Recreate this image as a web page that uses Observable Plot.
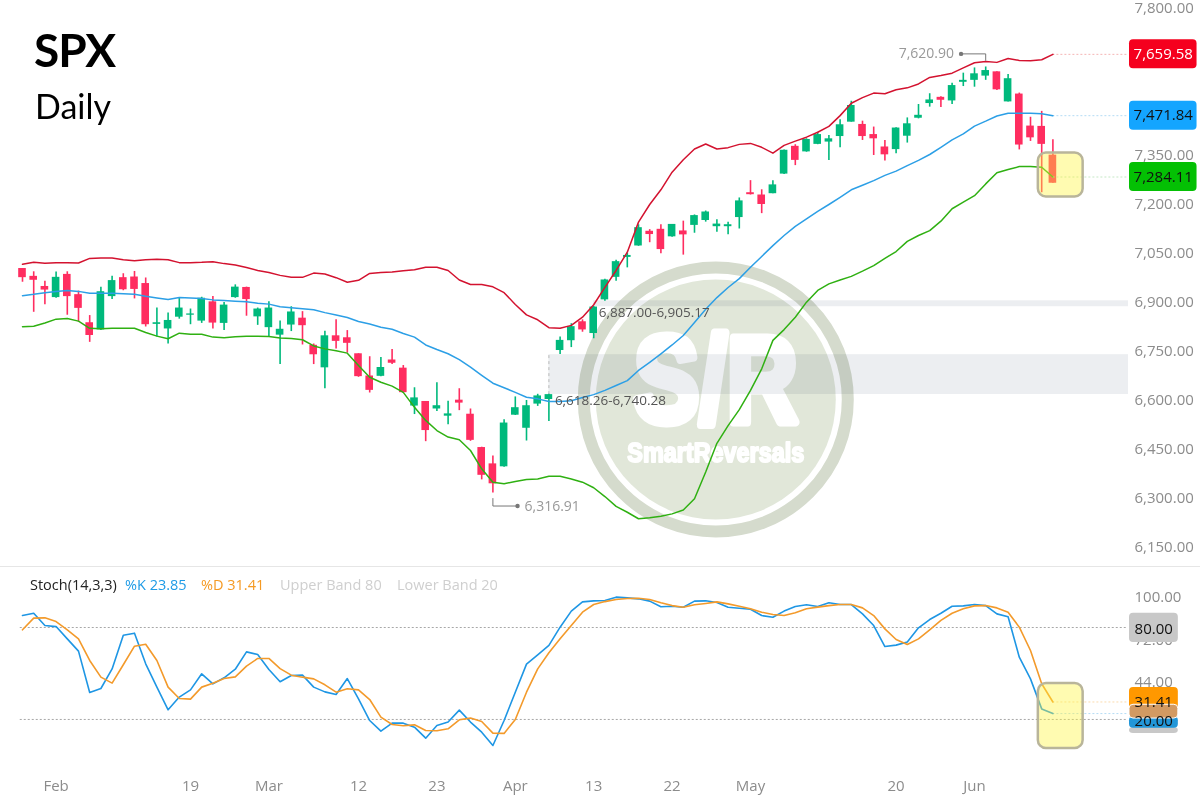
<!DOCTYPE html>
<html>
<head>
<meta charset="utf-8">
<script src="https://cdn.jsdelivr.net/npm/d3@7"></script>
<script src="https://cdn.jsdelivr.net/npm/@observablehq/plot@0.6"></script>
<style>
html,body{margin:0;padding:0;background:#fff;overflow:hidden}
#root{position:relative;width:1200px;height:797px;overflow:hidden}
#root svg{position:absolute;left:0;display:block;background:transparent}
.t{position:absolute;white-space:nowrap}
</style>
</head>
<body>
<div id="root"></div>
<script>
const open=[7004,6980,6949,6915,6986,6924,6838,6816,6918,6976,6978,6958,6833,6819,6855,6861,6843,6902,6836,6915,6946,6856,6823,6800,6831,6852,6769,6700,6798,6792,6743,6675,6674,6724,6699,6583,6597,6574,6552,6601,6558,6456,6406,6397,6555,6515,6589,6603,6753,6783,6841,6805,6908,6977,7038,7073,7118,7124,7101,7119,7136,7151,7132,7132,7160,7236,7229,7233,7293,7378,7361,7384,7391,7408,7452,7445,7414,7376,7368,7409,7464,7509,7528,7517,7574,7580,7593,7606,7514,7538,7440,7439,7351];
const close=[6976,6968,6938,6977,6918,6882,6799,6933,6967,6939,6940,6832,6838,6845,6883,6865,6913,6837,6892,6947,6909,6880,6883,6818,6871,6829,6740,6798,6781,6775,6673,6631,6701,6714,6624,6608,6508,6584,6559,6592,6478,6371,6345,6531,6578,6584,6614,6618,6784,6826,6816,6886,6969,7025,7044,7129,7108,7062,7139,7107,7166,7177,7140,7138,7211,7230,7200,7260,7366,7335,7399,7414,7401,7444,7503,7408,7401,7352,7434,7447,7473,7520,7519,7564,7580,7600,7610,7551,7585,7382,7404,7384,7265];
const high=[7004,6994,6965,6993,6994,6935,6860,6947,6980,6988,6995,6975,6883,6868,6914,6880,6916,6918,6900,6954,6947,6883,6902,6843,6887,6872,6773,6812,6847,6814,6743,6734,6732,6756,6707,6639,6597,6654,6598,6636,6574,6457,6430,6541,6611,6600,6619,6619,6794,6835,6847,6888,6971,7029,7051,7138,7123,7138,7139,7149,7168,7180,7153,7146,7220,7273,7245,7273,7367,7383,7401,7421,7411,7459,7516,7455,7437,7396,7435,7465,7506,7539,7530,7571,7602,7618,7620.9,7606,7598,7541,7467,7485,7398];
const low=[6962,6870,6893,6913,6861,6840,6778,6814,6909,6936,6911,6825,6794,6773,6849,6832,6836,6819,6814,6913,6858,6830,6796,6710,6811,6770,6710,6636,6758,6745,6671,6623,6673,6710,6622,6557,6474,6566,6526,6569,6475,6357,6316.91,6396,6554,6476,6582,6536,6741,6762,6809,6789,6904,6965,7006,7072,7083,7049,7100,7045,7112,7146,7115,7107,7125,7229,7172,7233,7292,7319,7360,7383,7335,7374,7452,7396,7350,7333,7355,7388,7462,7498,7497,7506,7561,7559,7580,7549,7514,7367,7393,7236,7265];
const bandUpper=[7017,7023,7020,7022,7022,7021,7035,7036,7036,7031,7028,7031,7032,7031,7022,7022,7023,7025,7019,7015,7007,6998,6992,6983,6977,6977,6990,6987,6976,6962,6968,6989,6992,6993,6997,7000,7008,7008,6998,6969,6955,6955,6948,6930,6894,6862,6847,6823,6821,6830,6855,6893,6946,6998,7054,7146,7200,7245,7299,7337,7370,7385,7370,7374,7384,7387,7375,7357,7381,7394,7406,7421,7439,7472,7510,7527,7541,7539,7551,7557,7569,7589,7595,7602,7618,7634,7638,7635,7647,7641,7640,7643,7659.58];
const bandMiddle=[6921,6925,6930,6934,6937,6934,6928,6928,6928,6927,6925,6919,6914,6909,6915,6914,6912,6908,6906,6904,6902,6898,6895,6887,6884,6881,6878,6869,6862,6854,6842,6834,6824,6818,6805,6794,6770,6756,6743,6725,6702,6677,6653,6639,6625,6610,6605,6597,6597,6599,6609,6618,6631,6646,6661,6692,6717,6743,6770,6799,6839,6879,6915,6946,6973,7008,7041,7074,7105,7133,7156,7179,7200,7222,7245,7259,7273,7289,7302,7319,7335,7353,7375,7398,7416,7440,7455,7471,7479,7479,7479,7478,7471.84];
const bandLower=[6826,6827,6837,6849,6851,6843,6821,6820,6821,6821,6821,6808,6797,6789,6806,6803,6803,6794,6792,6795,6797,6797,6796,6791,6790,6786,6767,6758,6752,6745,6707,6671,6656,6644,6625,6579,6539,6508,6488,6480,6447,6391,6350,6345,6352,6358,6360,6368,6368,6360,6350,6333,6306,6276,6258,6238,6241,6246,6253,6265,6299,6381,6469,6523,6572,6631,6697,6784,6817,6855,6901,6937,6957,6969,6980,6996,7013,7035,7056,7087,7105,7120,7149,7187,7207,7227,7263,7297,7307,7316,7316,7314,7284.11];
const stochK=[87.8,89.3,81.3,80.6,72.6,64.6,37.6,40.2,53.0,75.0,76.3,56.3,41.1,26.3,34.6,39.3,49.8,43.2,47.2,52.8,64.1,62.4,52.6,44.6,48.7,48.9,41.1,38.0,36.3,46.7,33.5,19.3,12.4,17.6,17.6,15.0,7.8,16.1,18.3,26.1,18.3,11.7,3.0,19.3,37.8,56.1,62.2,68.3,80.2,90.7,96.7,97.4,97.6,99.8,99.3,98.7,97.2,93.5,93.9,93.2,97.2,97.4,96.3,93.2,92.6,91.9,87.8,86.7,90.7,93.7,94.8,93.7,96.1,95.0,95.0,88.9,81.3,67.6,68.5,70.6,79.8,85.2,89.3,93.9,94.1,95.0,94.3,88.9,87.0,60.6,46.5,26.9,23.85];
const stochD=[78.5,86.1,86.3,83.9,78.5,72.6,58.5,47.6,43.7,55.7,67.8,69.1,58.5,41.1,33.7,33.3,41.1,43.7,46.7,47.8,54.8,59.8,59.8,53.2,48.9,47.6,46.5,42.6,37.8,40.0,39.3,33.0,21.5,16.7,15.9,16.5,12.8,12.6,13.9,19.8,20.9,18.7,11.1,10.9,20.0,37.8,53.0,63.5,72.6,81.3,90.0,95.0,96.9,98.3,98.9,99.1,98.3,96.1,94.3,93.2,94.8,95.7,96.7,95.4,93.9,92.2,90.0,88.5,87.8,89.6,92.2,93.3,94.3,95.0,95.0,92.8,87.8,79.1,72.2,68.9,72.6,78.5,84.6,89.3,92.2,94.1,94.3,92.8,90.0,80.2,65.0,43.3,31.41];
const priceTicks=[7800,7350,7200,7050,6900,6750,6600,6450,6300,6150];
const stochTicks=[100,72,44,16];
const stochLevels=[80,20];
const timeTickIndex=[3,15,22,30,37,44,51,58,65,78,85];
const timeTickLabels=["Feb","19","Mar","12","23","Apr","13","22","May","20","Jun"];
const legendTexts=["Stoch(14,3,3)","%K 23.85","%D 31.41","Upper Band 80","Lower Band 20"];
const legendLefts=[30,125,201,280,397];
const legendColors=["#222","#1e9be6","#f59a23","#cfcfcf","#cfcfcf"];
const zones=[{x1:47,x2:98.75,y1:6618.26,y2:6740.28},{x1:51,x2:98.75,y1:6887,y2:6905.17}];
const priceTags=[{v:7659.58,fill:"#f5001e",text:"#fff"},{v:7471.84,fill:"#14a5ff",text:"#111"},{v:7284.11,fill:"#04c004",text:"#111"}];
const priceLeads=[{v:7659.58,c:"#f5b5b5"},{v:7471.84,c:"#b5dcf5"},{v:7284.11,c:"#c5e8c5"}];
const stochLeads=[{v:31.41,c:"#fbdcae"},{v:23.85,c:"#b5dcf5"}];
const stochTags=[{y1:40.9,y2:24.6,fill:"#ff9800",line:"none"},{y1:14.8,y2:10.9,fill:"#c8c8c8",line:"none"},{y1:21.8,y2:14.2,fill:"#2196d8",line:"none"},{y1:29.6,y2:20.6,fill:"#d29a62",line:"#fff"},{y1:89.3,y2:70.2,fill:"#c8c8c8",line:"none"}];
const stochTagText=[{v:31.41,t:"31.41"},{v:19.0,t:"20.00"},{v:79.2,t:"80.00"}];

const XDOMAIN=[-22/11.2,98.75];
const candles=open.map((o,i)=>({i,o,c:close[i],h:high[i],l:low[i],u:bandUpper[i],m:bandMiddle[i],b:bandLower[i],k:stochK[i],d:stochD[i]}));
const GREEN="#00b97c",RED="#ff2d60";
const fmt=d3.format(",.2f");
const font="'Open Sans',sans-serif";
const candleColor=d=>d.c>=d.o?GREEN:RED;
const logoFont="'Liberation Sans Narrow','Liberation Sans',sans-serif";

const price=Plot.plot({
  width:1200,height:566,marginLeft:0,marginRight:72,marginTop:0,marginBottom:0,
  style:{fontFamily:font,fontSize:"15px",color:"#8c8c8c",background:"transparent",overflow:"visible"},
  x:{domain:XDOMAIN,axis:null},
  y:{domain:[7824.4-3.061*566,7824.4],axis:null},
  color:{type:"identity"},
  marks:[
    Plot.dot([{i:61.9,v:6603}],{x:"i",y:"v",r:132,stroke:"#d5dbcd",strokeWidth:12,fill:"none"}),
    Plot.dot([{i:61.9,v:6603}],{x:"i",y:"v",r:120,fill:"#e1e7d9",stroke:"none"}),
    Plot.text(["S/R"],{x:[61.9],y:[6603],dy:-17,text:d=>d,fill:"#fff",stroke:"#fff",strokeWidth:9,fontFamily:logoFont,fontWeight:"bold",fontSize:123,className:"logo-big"}),
    Plot.text(["SmartReversals"],{x:[61.9],y:[6603],dy:54,text:d=>d,fill:"#fff",stroke:"#fff",strokeWidth:2,fontFamily:logoFont,fontWeight:"bold",fontSize:27,className:"logo-small"}),
    Plot.rect(zones,{x1:"x1",x2:"x2",y1:"y1",y2:"y2",fill:"#eceef1",mixBlendMode:"multiply"}),
    Plot.ruleX([47],{y1:6618,y2:6740,stroke:"#bbb",strokeDasharray:"3 3"}),
    Plot.axisY(priceTicks,{anchor:"right",tickSize:0,tickPadding:6,tickFormat:fmt,label:null}),
    Plot.ruleX(candles,{x:"i",y1:"l",y2:"h",stroke:candleColor,strokeWidth:1.6}),
    Plot.rect(candles,{x1:d=>d.i-.34,x2:d=>d.i+.34,y1:"o",y2:"c",fill:candleColor}),
    Plot.ruleY(priceLeads,{y:"v",x1:92,x2:98.75,stroke:"c",strokeDasharray:"2 2",strokeWidth:1}),
    Plot.lineY(candles,{x:"i",y:"u",stroke:"#d3122f",strokeWidth:1.5}),
    Plot.lineY(candles,{x:"i",y:"m",stroke:"#2c9fe6",strokeWidth:1.5}),
    Plot.lineY(candles,{x:"i",y:"b",stroke:"#2fb012",strokeWidth:1.5}),
    Plot.rect([{x1:90.7,x2:94.7,y1:7223,y2:7357.6}],{x1:"x1",x2:"x2",y1:"y1",y2:"y2",rx:8,fill:"#fff53c",fillOpacity:.4,stroke:"#b9b59a",strokeWidth:2.5}),
    Plot.rect(priceTags,{x1:98.84,x2:104.87,y1:d=>d.v-44.4,y2:d=>d.v+44.4,fill:"fill",rx:4}),
    Plot.text(priceTags,{x:101.85,y:"v",text:d=>fmt(d.v),fill:"text",fontSize:15}),
    Plot.line([{i:86,v:7641},{i:86,v:7661},{i:83.8,v:7661}],{x:"i",y:"v",stroke:"#777",strokeWidth:1}),
    Plot.dot([{i:83.8,v:7661}],{x:"i",y:"v",r:2.2,fill:"#777"}),
    Plot.text(["7,620.90"],{x:[83.8],y:[7661],dx:-7,textAnchor:"end",text:d=>d,fill:"#999",fontSize:14}),
    Plot.line([{i:42,v:6300},{i:42,v:6277},{i:44.2,v:6277}],{x:"i",y:"v",stroke:"#777",strokeWidth:1}),
    Plot.dot([{i:44.2,v:6277}],{x:"i",y:"v",r:2.2,fill:"#777"}),
    Plot.text(["6,316.91"],{x:[44.2],y:[6277],dx:7,textAnchor:"start",text:d=>d,fill:"#999",fontSize:14}),
    Plot.text(["6,618.26-6,740.28"],{x:[47],y:[6600],dx:6,textAnchor:"start",text:d=>d,fill:"#555",fontSize:13.5}),
    Plot.text(["6,887.00-6,905.17"],{x:[51],y:[6869],dx:5,textAnchor:"start",text:d=>d,fill:"#555",fontSize:13.5})
  ]
});
price.style.top="0";
function fit(cls,len){
  price.querySelectorAll(`.${cls} text, text.${cls}`).forEach(t=>{
    t.setAttribute("textLength",len);
    t.setAttribute("lengthAdjust","spacingAndGlyphs");
  });
}
fit("logo-big",164);
fit("logo-small",177);

const stoch=Plot.plot({
  width:1200,height:231,marginLeft:0,marginRight:72,marginTop:0,marginBottom:25,
  style:{fontFamily:font,fontSize:"15px",color:"#8c8c8c",background:"transparent",overflow:"visible"},
  x:{domain:XDOMAIN,axis:null},
  y:{domain:[-14.6,119.8],axis:null},
  color:{type:"identity"},
  marks:[
    Plot.axisY(stochTicks,{anchor:"right",tickSize:0,tickPadding:6,tickFormat:fmt,label:null}),
    Plot.axisX(timeTickIndex,{anchor:"bottom",tickSize:0,tickPadding:8,label:null,tickFormat:d=>timeTickLabels[timeTickIndex.indexOf(d)]}),
    Plot.ruleY(stochLevels,{x1:-.2,x2:98.6,stroke:"#a8a8a8",strokeDasharray:"2 2",strokeWidth:1}),
    Plot.ruleY(stochLeads,{y:"v",x1:92,x2:98.75,stroke:"c",strokeDasharray:"2 2",strokeWidth:1}),
    Plot.lineY(candles,{x:"i",y:"k",stroke:"#1e96e4",strokeWidth:1.6}),
    Plot.lineY(candles,{x:"i",y:"d",stroke:"#f39a2b",strokeWidth:1.6}),
    Plot.rect([{x1:90.7,x2:94.7,y1:1.1,y2:43.5}],{x1:"x1",x2:"x2",y1:"y1",y2:"y2",rx:8,fill:"#fff53c",fillOpacity:.4,stroke:"#b9b59a",strokeWidth:2.5}),
    Plot.rect(stochTags,{x1:98.84,x2:103.2,y1:"y1",y2:"y2",fill:"fill",stroke:"line",rx:4}),
    Plot.text(stochTagText,{x:101,y:"v",text:"t",fill:"#111",fontSize:15})
  ]
});
stoch.style.top="566px";

const root=document.getElementById("root");
root.append(price,stoch);
const sep=document.createElement("div");
sep.style.cssText="position:absolute;left:0;top:566px;width:1200px;height:1px;background:#e6e6e6";
root.append(sep);

function label(text,left,top,css){
  const e=document.createElement("div");
  e.className="t";e.textContent=text;
  e.style.cssText=`left:${left}px;top:${top}px;${css}`;
  root.append(e);
}
label("SPX",34,22,"font:700 46px Lato,sans-serif;color:#000;letter-spacing:-1px");
label("Daily",35,85,"font:400 34px Lato,sans-serif;color:#000");
legendTexts.forEach((t,i)=>label(t,legendLefts[i],575,`font:400 14.5px 'Open Sans',sans-serif;color:${legendColors[i]}`));
</script>
</body>
</html>
